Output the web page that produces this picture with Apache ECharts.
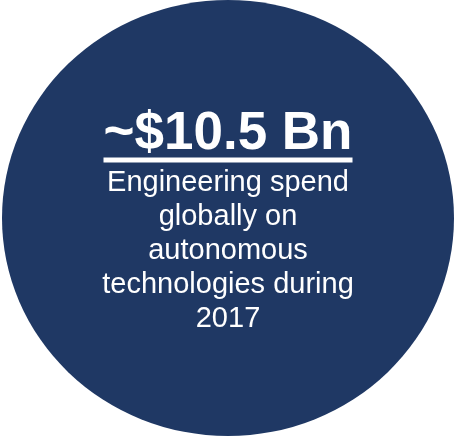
<!DOCTYPE html>
<html>
<head>
<meta charset="utf-8">
<script src="https://cdn.jsdelivr.net/npm/echarts@6/dist/echarts.min.js"></script>
<style>
    html,body{margin:0;padding:0;background:#fff;}
    #chart{width:456px;height:437px;}
</style>
</head>
<body>
<div id="chart"></div>
<script>
// headline figure and the caption under it
const headline = ['~$10.5 Bn'];
const captionLines = ['Engineering spend', 'globally on', 'autonomous', 'technologies during', '2017'];
// one bubble, placed in the middle of the canvas
const bubbleX = [228];
const bubbleY = [218];

const myChart = echarts.init(document.getElementById('chart'));

// 拼接富文本：大标题 + 下划线 + 说明文字
function buildLabel(){
    let txt = '{t|' + headline[0] + '}\n{u|}';
    captionLines.forEach(line=>{
        txt += '\n{b|' + line + '}';
    });
    return txt;
}

myChart.setOption({
    animation:false,
    grid:{left:0,right:0,top:0,bottom:0},
    xAxis:{type:'value',min:0,max:456,show:false},
    yAxis:{type:'value',min:0,max:437,inverse:true,show:false},
    series:[{
        type:'scatter',
        symbol:'circle',
        symbolSize:[452,436],
        itemStyle:{color:'#1F3864',opacity:1},
        data:bubbleX.map((x,i)=>[x,bubbleY[i]]),
        label:{
            show:true,
            position:'inside',
            offset:[0,7],
            formatter:buildLabel,
            rich:{
                t:{
                    fontFamily:'"Liberation Sans", Arial, sans-serif',
                    fontWeight:'bold',
                    fontSize:53,
                    lineHeight:40,
                    color:'#fff',
                    align:'center'
                },
                u:{
                    width:249,
                    height:5,
                    lineHeight:11,
                    backgroundColor:'#fff',
                    align:'center'
                },
                b:{
                    fontFamily:'"Liberation Sans", Arial, sans-serif',
                    fontSize:29,
                    lineHeight:34,
                    color:'#fff',
                    align:'center'
                }
            }
        }
    }]
});
</script>
</body>
</html>
